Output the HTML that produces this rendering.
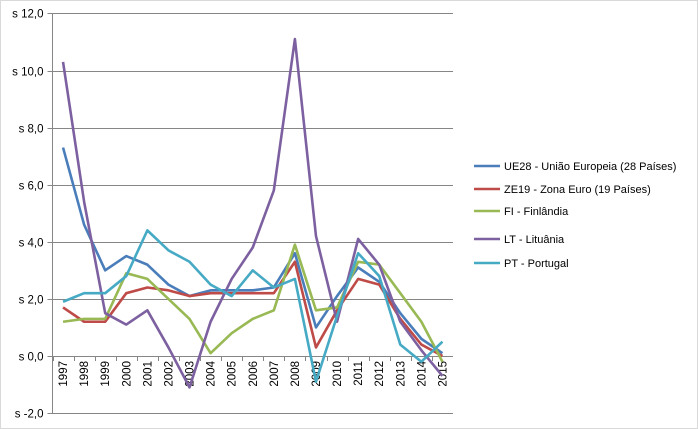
<!DOCTYPE html>
<html><head><meta charset="utf-8"><style>
body{margin:0;background:#fff;}
svg{display:block;font-family:"Liberation Sans",Arial,sans-serif;}
</style></head><body>
<svg id="c" width="698" height="429">
<rect x="0.5" y="0.5" width="697" height="428" fill="#fff" stroke="#d9d9d9"/>
<g id="grid"></g><g id="series"></g><g id="legend"></g>
</svg>
<script>
const years=["1997","1998","1999","2000","2001","2002","2003","2004","2005","2006","2007","2008","2009","2010","2011","2012","2013","2014","2015"];
const yTicks=[-2,0,2,4,6,8,10,12];
const ue28=[7.3,4.6,3.0,3.5,3.2,2.5,2.1,2.3,2.3,2.3,2.4,3.6,1.0,2.1,3.1,2.6,1.5,0.6,0.1];
const ze19=[1.7,1.2,1.2,2.2,2.4,2.3,2.1,2.2,2.2,2.2,2.2,3.3,0.3,1.6,2.7,2.5,1.3,0.4,0.0];
const fi=[1.2,1.3,1.3,2.9,2.7,2.0,1.3,0.1,0.8,1.3,1.6,3.9,1.6,1.7,3.3,3.2,2.2,1.2,-0.2];
const lt=[10.3,5.4,1.5,1.1,1.6,0.3,-1.1,1.2,2.7,3.8,5.8,11.1,4.2,1.2,4.1,3.2,1.2,0.2,-0.7];
const pt=[1.9,2.2,2.2,2.8,4.4,3.7,3.3,2.5,2.1,3.0,2.4,2.7,-0.9,1.4,3.6,2.8,0.4,-0.2,0.5];
const seriesNames=["UE28 - União Europeia (28 Países)","ZE19 - Zona Euro (19 Países)","FI - Finlândia","LT - Lituânia","PT - Portugal"];
const seriesData=[ue28,ze19,fi,lt,pt];
const colors=["#4a7ebb","#be4b48","#98b954","#7d60a0","#46aac5"];
const NS="http://www.w3.org/2000/svg";
const L=52.5,R=453,band=(R-L)/years.length;
const xs=i=>L+band*(i+0.5);
const ys=v=>356-v*28.55;
function mk(t,a,p){const e=document.createElementNS(NS,t);for(const k in a)e.setAttribute(k,a[k]);p.appendChild(e);return e;}
const grid=document.getElementById('grid');
yTicks.forEach(v=>{
  const y=Math.round(ys(v))+0.5;
  if(v!==0&&v!==-2){const g=mk('line',{x1:L-5,x2:R,y1:y,y2:y,stroke:'#868686'},grid);
  
  }
  else{const g=mk('line',{x1:L-5,x2:(v===0?R:R),y1:y,y2:y,stroke:'#868686'},grid);
  
  }
  const t=mk('text',{x:L-9,y:y+4,'text-anchor':'end','font-size':'11.5',fill:'#000'},grid);
  t.textContent='s '+(v<0?'-':'')+Math.abs(v).toFixed(1).replace('.',',');
  
  
});
const ax=mk('line',{x1:L,x2:L,y1:ys(12),y2:ys(-2),stroke:'#868686'},grid);


years.forEach((yr,i)=>{
  const x=Math.round(L+band*i)+0.5;
  const tk=mk('line',{x1:x,x2:x,y1:ys(0),y2:ys(0)+5,stroke:'#868686'},grid);
  
  
  const cx=xs(i)+4,cy=ys(0)+5;
  const t=mk('text',{x:cx,y:cy,'text-anchor':'end','font-size':'11.5',transform:`rotate(-90 ${cx} ${cy})`},grid);
  t.textContent=yr;
  
  
});
const sg=document.getElementById('series');
seriesData.forEach((d,s)=>{
  const p=mk('polyline',{points:d.map((v,i)=>xs(i)+','+ys(v)).join(' '),fill:'none',stroke:colors[s],'stroke-width':'2.6','stroke-linejoin':'round'},sg);
  
  
});
const lg=document.getElementById('legend');
const ly=[166,189,211,239,263];
seriesNames.forEach((n,s)=>{
  const g=mk('g',{},lg);
  
  
  mk('line',{x1:474,x2:500,y1:ly[s],y2:ly[s],stroke:colors[s],'stroke-width':'2.6'},g);
  const t=mk('text',{x:504,y:ly[s]+4,'font-size':'11'},g);
  t.textContent=n;
});
</script>
</body></html>
